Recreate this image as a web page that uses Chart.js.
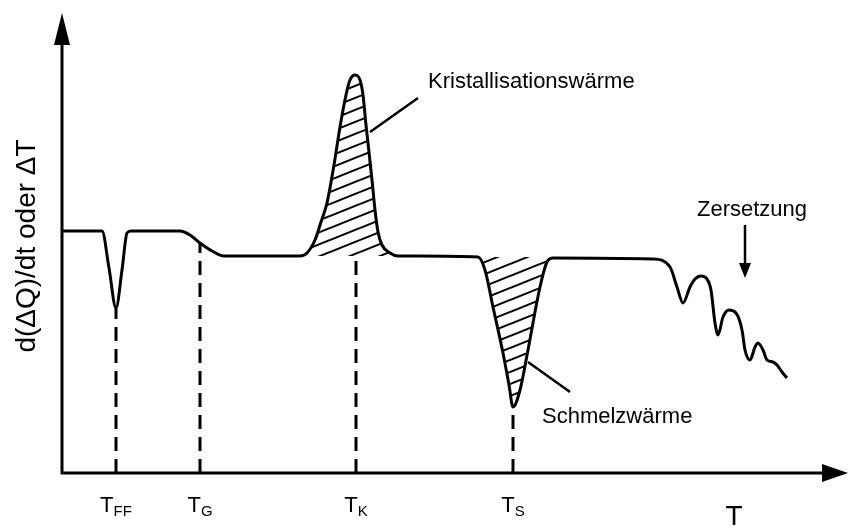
<!DOCTYPE html>
<html lang="de">
<head>
  <meta charset="UTF-8" />
  <title>DSC Kurve</title>
  <script src="https://cdn.jsdelivr.net/npm/chart.js"></script>
  <style>
    body {
      margin: 0;
      background-color: #fff;
    }
  </style>
</head>
<body>
  <canvas id="dscChart" width="849" height="528"></canvas>

  <script>
    // curve (arbitrary units: temperature to the right, signal upward)
    const tempX = [0, 40, 47, 54, 60, 65, 69, 118, 128, 138, 150, 162,
      238, 245, 253, 259, 265, 272, 278, 284, 288, 293, 298, 301, 304, 306, 310, 313, 316, 320, 328, 336,
      416, 423, 431, 441, 447, 451, 458, 466, 478, 485, 491,
      591, 608, 615, 621, 628, 633, 639, 645, 649, 653, 656, 661, 667, 674, 680, 683, 688, 693, 696, 701, 705, 711, 715, 720, 725];
    const signal = [242, 242, 205, 165, 203, 240, 242, 242, 238, 230, 222, 217,
      217, 220, 233, 251, 270, 308, 346, 378, 393, 398, 393, 378, 348, 330, 293, 263, 241, 228, 220, 217,
      216, 203, 166, 120, 88, 66, 83, 123, 186, 211, 215,
      214, 206, 186, 170, 186, 194, 197, 194, 183, 150, 138, 156, 163, 160, 143, 123, 113, 126, 130, 123, 113, 111, 108, 101, 95];

    // characteristic temperatures
    const markerX = [54, 138, 294, 451];
    const markerTop = [165, 230, 217, 66];
    const markerSub = ['FF', 'G', 'K', 'S'];

    // hatched areas
    const peakRange = [238, 336];
    const peakBase = 217;
    const dipRange = [416, 491];
    const dipBase = 216;

    const notes = ['Kristallisationswärme', 'Zersetzung', 'Schmelzwärme'];
    const yTitle = 'd(ΔQ)/dt oder ΔT';
    const xTitle = 'T';

    const FONT = '"Liberation Sans", Arial, sans-serif';

    const curve = tempX.map((x, i) => ({ x: x, y: signal[i] }));
    const part = (r) => curve.filter(p => p.x >= r[0] && p.x <= r[1]);

    // diagonal hatch pattern
    function hatch() {
      const w = 30, h = 12;
      const tile = document.createElement('canvas');
      tile.width = w;
      tile.height = h;
      const c = tile.getContext('2d');
      c.strokeStyle = '#000';
      c.lineWidth = 2;
      [-h, 0, h].forEach(off => {
        c.beginPath();
        c.moveTo(0, h + off);
        c.lineTo(w, off);
        c.stroke();
      });
      return c.createPattern(tile, 'repeat');
    }
    const pattern = hatch();

    const markerSets = markerX.map((x, i) => ({
      data: [{ x: x, y: 0 }, { x: x, y: markerTop[i] }],
      borderColor: '#000',
      borderWidth: 3,
      borderDash: [14, 8],
      pointRadius: 0,
      fill: false,
      order: 1
    }));

    function arrowHead(ctx, tx, ty, dx, dy, len, half) {
      // dx,dy: unit direction the arrow points to
      const bx = tx - dx * len, by = ty - dy * len;
      ctx.beginPath();
      ctx.moveTo(tx, ty);
      ctx.lineTo(bx - dy * half, by + dx * half);
      ctx.lineTo(bx + dy * half, by - dx * half);
      ctx.closePath();
      ctx.fill();
    }

    const decorations = {
      id: 'decorations',
      afterDraw(chart) {
        const { ctx, chartArea, scales } = chart;
        const px = v => scales.x.getPixelForValue(v);
        const py = v => scales.y.getPixelForValue(v);
        const x0 = chartArea.left, y0 = chartArea.bottom;

        ctx.save();
        ctx.strokeStyle = '#000';
        ctx.fillStyle = '#000';
        ctx.lineCap = 'butt';

        // axes with arrows
        ctx.lineWidth = 3;
        ctx.beginPath();
        ctx.moveTo(x0, y0 + 1);
        ctx.lineTo(x0, chartArea.top + 20);
        ctx.moveTo(x0 - 1, y0);
        ctx.lineTo(chartArea.right - 15, y0);
        ctx.stroke();
        arrowHead(ctx, x0, chartArea.top, 0, -1, 32, 8);
        arrowHead(ctx, chartArea.right + 1, y0, 1, 0, 26, 9);

        // leader lines
        ctx.lineWidth = 2.5;
        ctx.beginPath();
        ctx.moveTo(px(308), py(341));
        ctx.lineTo(px(356), py(375));
        ctx.moveTo(px(466), py(111));
        ctx.lineTo(px(508), py(81));
        ctx.moveTo(px(683), py(248));
        ctx.lineTo(px(683), py(208));
        ctx.stroke();
        arrowHead(ctx, px(683), py(195), 0, 1, 15, 6);

        // annotations
        ctx.font = '22px ' + FONT;
        ctx.textBaseline = 'alphabetic';
        ctx.textAlign = 'left';
        ctx.fillText(notes[0], px(366), py(385));
        ctx.fillText(notes[1], px(635), py(257));
        ctx.fillText(notes[2], px(480), py(50));

        // temperature labels with subscripts
        markerX.forEach((x, i) => {
          ctx.font = '22px ' + FONT;
          const wT = ctx.measureText('T').width;
          ctx.font = '15px ' + FONT;
          const wS = ctx.measureText(markerSub[i]).width;
          const left = px(x) - (wT + wS) / 2;
          ctx.font = '22px ' + FONT;
          ctx.fillText('T', left, y0 + 39);
          ctx.font = '15px ' + FONT;
          ctx.fillText(markerSub[i], left + wT, y0 + 43);
        });

        // axis titles
        ctx.font = '28px ' + FONT;
        ctx.textAlign = 'center';
        ctx.fillText(xTitle, px(672), y0 + 52);

        ctx.font = '28px ' + FONT;
        ctx.translate(35, py(227));
        ctx.rotate(-Math.PI / 2);
        ctx.fillText(yTitle, 0, 0);
        ctx.restore();
      }
    };

    new Chart(document.getElementById('dscChart'), {
      type: 'line',
      data: {
        datasets: [
          {
            data: curve,
            borderColor: '#000',
            borderWidth: 3,
            pointRadius: 0,
            cubicInterpolationMode: 'monotone',
            fill: false,
            order: 0
          },
          {
            data: part(peakRange),
            borderWidth: 0,
            pointRadius: 0,
            cubicInterpolationMode: 'monotone',
            backgroundColor: pattern,
            fill: { value: peakBase },
            order: 2
          },
          {
            data: part(dipRange),
            borderWidth: 0,
            pointRadius: 0,
            cubicInterpolationMode: 'monotone',
            backgroundColor: pattern,
            fill: { value: dipBase },
            order: 2
          },
          ...markerSets
        ]
      },
      options: {
        responsive: false,
        animation: false,
        clip: false,
        layout: {
          padding: { left: 62, right: 2, top: 13, bottom: 55 }
        },
        scales: {
          x: { type: 'linear', min: 0, max: 785, display: false },
          y: { min: 0, max: 460, display: false }
        },
        plugins: {
          legend: { display: false },
          tooltip: { enabled: false }
        }
      },
      plugins: [decorations]
    });
  </script>
</body>
</html>
